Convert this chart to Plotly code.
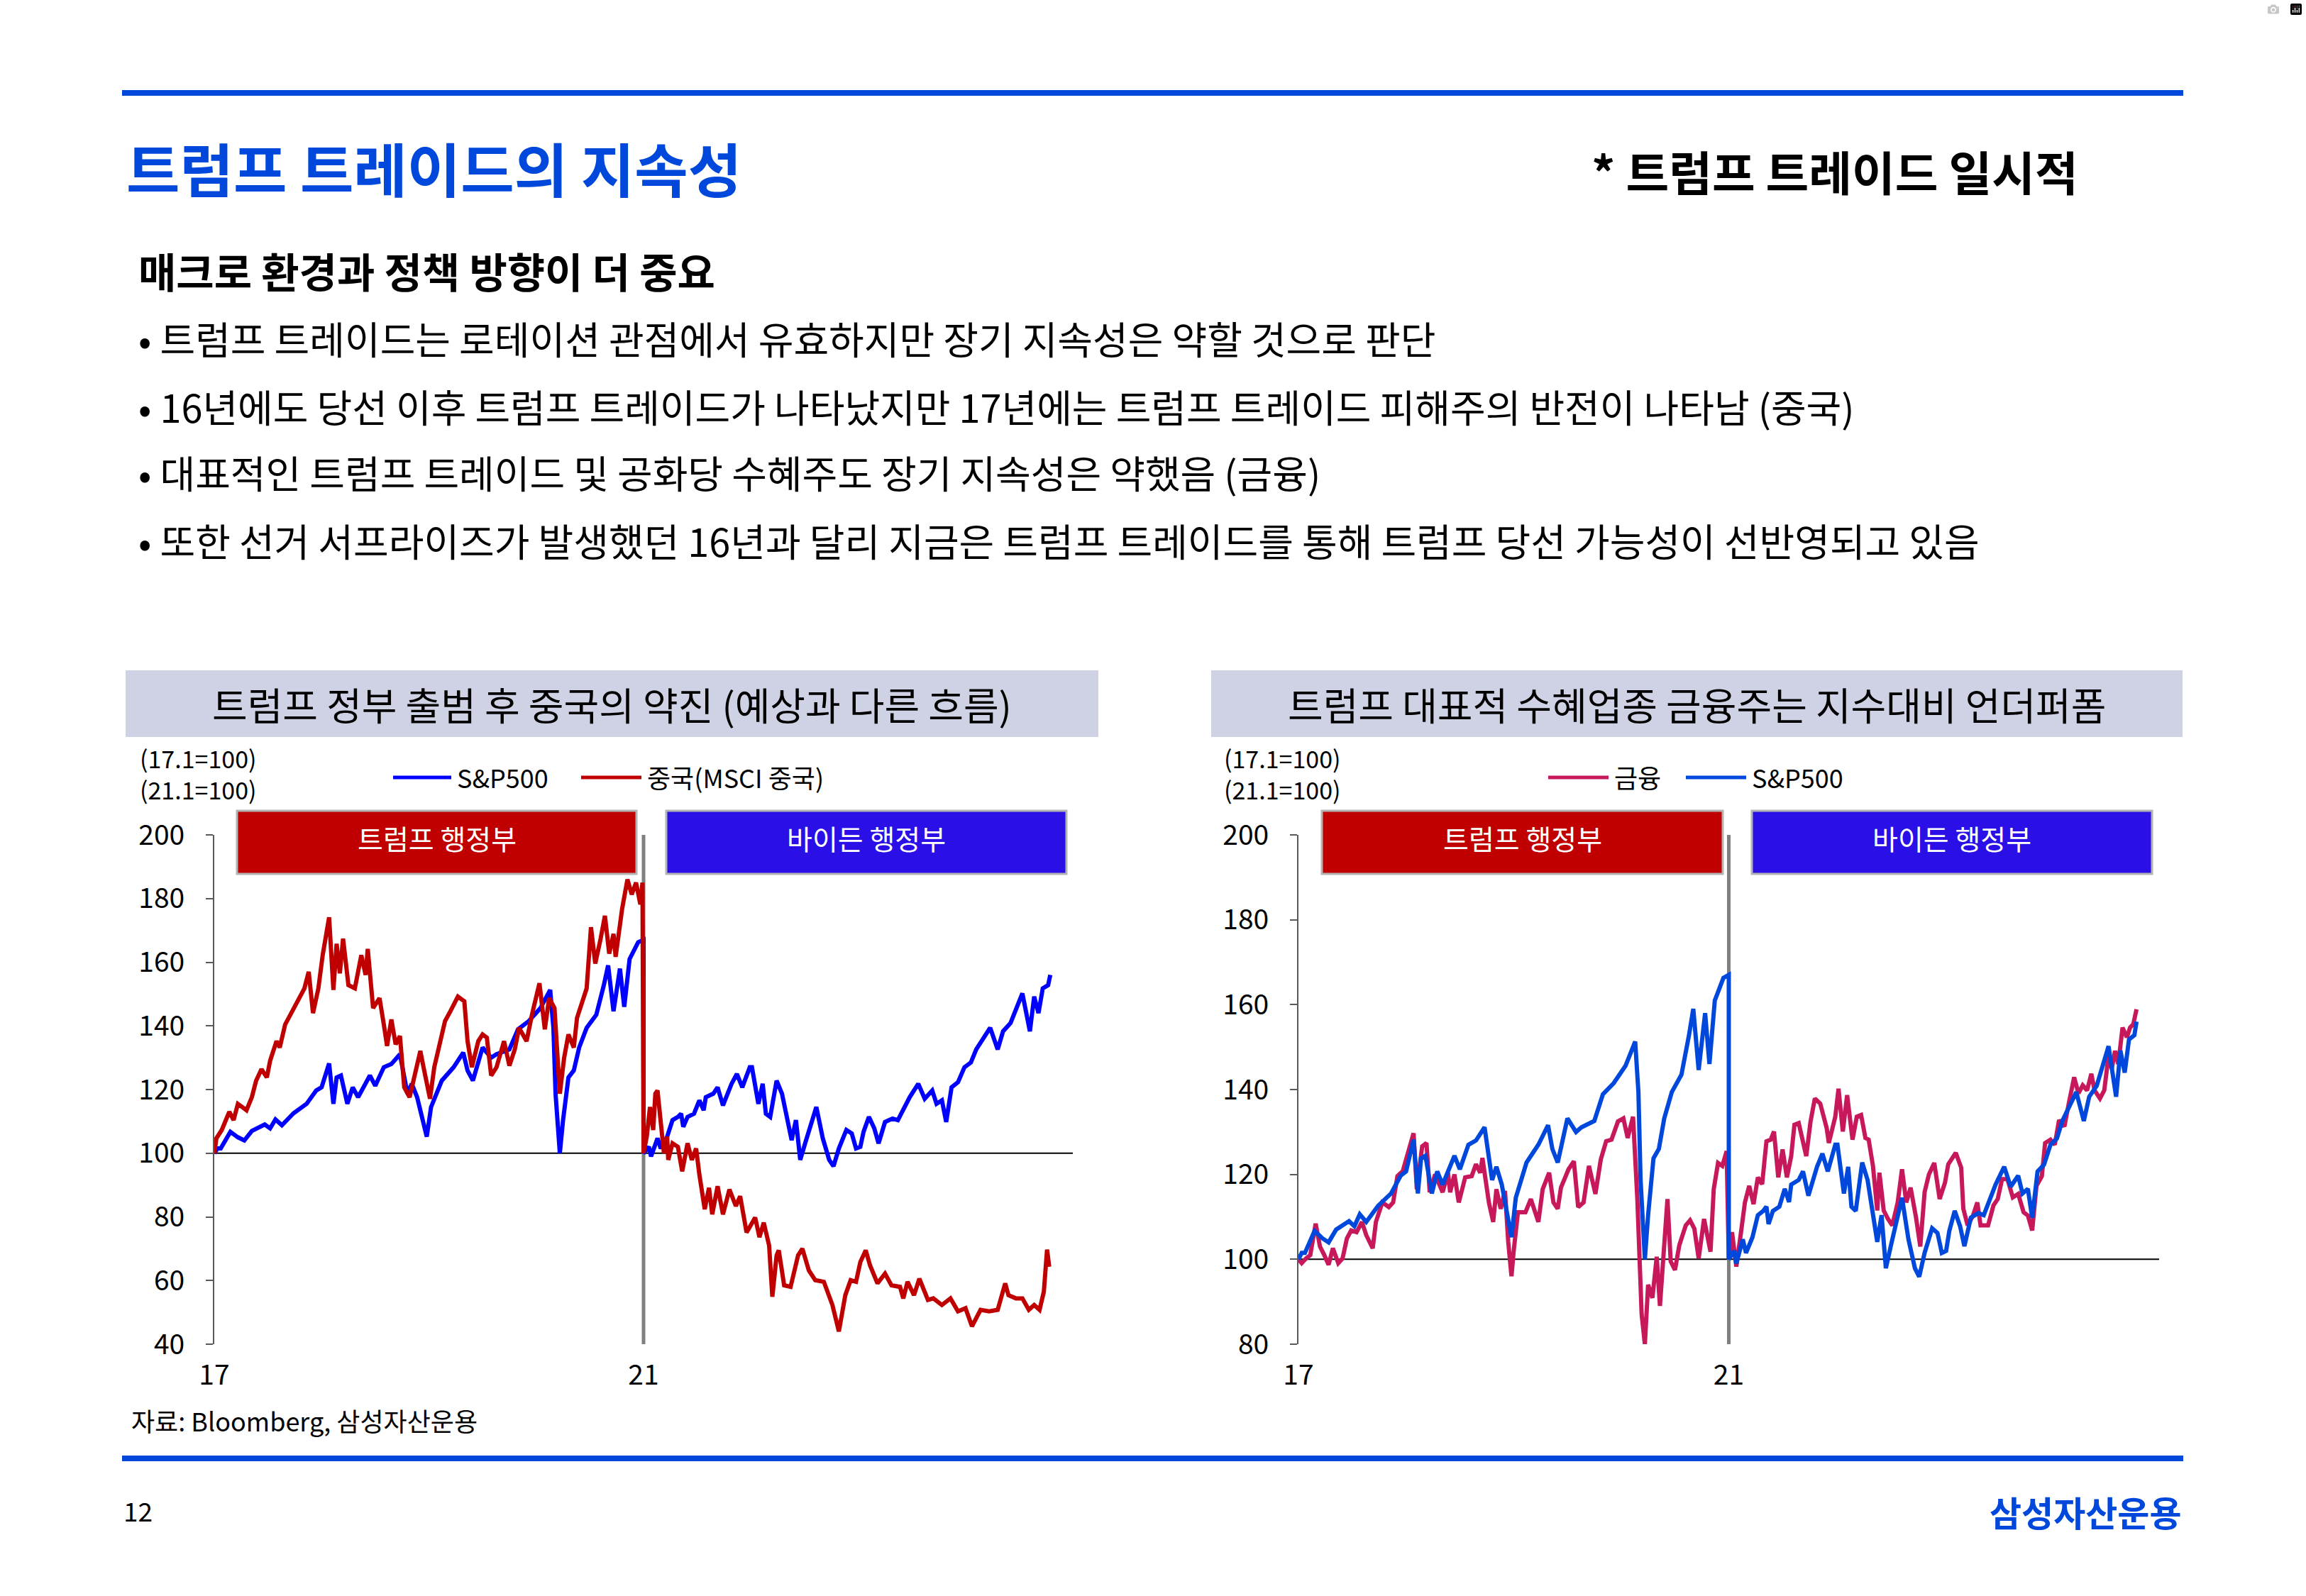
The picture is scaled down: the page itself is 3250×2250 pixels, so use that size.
import plotly.graph_objects as go

W, H = 3250, 2250
FONT = "Noto Sans CJK KR"
BLUE_BRAND = "#0047DB"

# x values are years on the chart axis: 17 = Jan 2017, 21 = Jan 2021 (rebased to 100)
sp500_trump = [
    (17.00, 100), (17.03, 101.5), (17.06, 101.5), (17.15, 106.7), (17.22, 105), (17.28, 104),
    (17.35, 107), (17.47, 109), (17.52, 107.8), (17.57, 110.6), (17.63, 108.8), (17.74, 112.6),
    (17.86, 115.5), (17.95, 119.7), (18.00, 120.7), (18.07, 128.2), (18.11, 115.5), (18.14, 123.8),
    (18.18, 124.4), (18.24, 115.5), (18.29, 120.7), (18.34, 117.6), (18.45, 124.4), (18.50, 121.2),
    (18.58, 127), (18.65, 128), (18.73, 131.1), (18.80, 118.7), (18.84, 121.8), (18.89, 117.6),
    (18.98, 105.2), (19.02, 114.5), (19.12, 122.8), (19.23, 127), (19.32, 131.6), (19.36, 126),
    (19.41, 122.8), (19.50, 133.2), (19.58, 130), (19.63, 131.1), (19.75, 132.6), (19.83, 138.9),
    (19.93, 141.5), (20.04, 145.6), (20.13, 151.3), (20.16, 139.4), (20.18, 118.7), (20.22, 100),
    (20.25, 110.4), (20.30, 123.8), (20.35, 126), (20.40, 133.2), (20.47, 139.4), (20.56, 143.5),
    (20.63, 152.8), (20.67, 159), (20.72, 144.6), (20.78, 158), (20.82, 146), (20.87, 161),
    (20.95, 166.3), (21.00, 167),
]
sp500_biden = [
    (21.00, 100), (21.05, 102), (21.07, 99), (21.13, 104.7), (21.16, 101.5), (21.22, 105.2),
    (21.27, 110.4), (21.32, 111.4), (21.35, 112.4), (21.37, 108.3), (21.41, 111.4), (21.47, 112.4),
    (21.52, 116.6), (21.56, 113.5), (21.58, 117.6), (21.65, 118.7), (21.69, 120.7), (21.74, 115),
    (21.82, 121.8), (21.87, 124.9), (21.92, 120.7), (21.99, 127), (22.01, 127), (22.07, 115.5),
    (22.11, 121.8), (22.14, 112.4), (22.18, 111.4), (22.24, 122.8), (22.29, 118.7), (22.34, 110.4),
    (22.38, 104.1), (22.42, 110.4), (22.46, 97.9), (22.51, 103.6), (22.56, 109.3), (22.61, 114.5),
    (22.67, 104.7), (22.73, 97.9), (22.77, 95.9), (22.82, 101.5), (22.89, 107.3), (22.94, 106.2),
    (22.98, 101.5), (23.02, 102), (23.05, 106.7), (23.10, 111.4), (23.15, 107.8), (23.19, 103.1),
    (23.25, 109.8), (23.32, 110.9), (23.37, 110.4), (23.42, 114), (23.48, 117.6), (23.56, 121.8),
    (23.62, 117.1), (23.69, 119.7), (23.73, 115.5), (23.78, 116.6), (23.82, 109.8), (23.87, 120.7),
    (23.93, 122.3), (23.99, 127), (24.05, 128.5), (24.10, 132.6), (24.17, 136.3), (24.23, 139.4),
    (24.30, 132.6), (24.35, 138.3), (24.42, 140.9), (24.47, 145), (24.53, 150.2), (24.60, 138.3),
    (24.64, 149.2), (24.68, 144), (24.72, 151.8), (24.77, 152.8), (24.79, 156),
]
china_trump = [
    (17.00, 100), (17.02, 104.7), (17.07, 107.3), (17.14, 113), (17.18, 110.4), (17.22, 115.5),
    (17.30, 113.5), (17.35, 117.6), (17.39, 122.8), (17.44, 126.4), (17.49, 123.8), (17.52, 129),
    (17.58, 135.2), (17.61, 133.2), (17.66, 140.4), (17.73, 145), (17.79, 148.7), (17.84, 151.8),
    (17.88, 157), (17.92, 144), (17.97, 151.8), (18.01, 162.2), (18.07, 174.1), (18.11, 151.3),
    (18.14, 165.8), (18.17, 156.5), (18.20, 167.4), (18.25, 152.8), (18.31, 151.8), (18.37, 162.2),
    (18.41, 156), (18.43, 164.2), (18.48, 145.6), (18.54, 148.7), (18.58, 140.4), (18.61, 133.7),
    (18.65, 142), (18.69, 134.2), (18.73, 136.8), (18.77, 120.7), (18.82, 117.6), (18.88, 127),
    (18.92, 132.1), (18.95, 127), (19.01, 117.1), (19.05, 127), (19.11, 136.3), (19.15, 141.5),
    (19.20, 144.6), (19.27, 149.2), (19.33, 147.7), (19.36, 135.2), (19.40, 127), (19.46, 135.2),
    (19.50, 137.3), (19.54, 136.3), (19.58, 124.4), (19.63, 127), (19.70, 135.2), (19.75, 127.5),
    (19.80, 132.6), (19.84, 139.4), (19.91, 135.2), (19.96, 143.5), (20.03, 153.4), (20.08, 138.9),
    (20.12, 148.7), (20.17, 145.6), (20.22, 118.7), (20.26, 130), (20.30, 137.3), (20.35, 133.2),
    (20.38, 142.5), (20.43, 147.7), (20.47, 151.8), (20.51, 171), (20.55, 159.6), (20.60, 167.4),
    (20.64, 174.6), (20.68, 162.7), (20.72, 168.9), (20.74, 161.7), (20.80, 176.7), (20.85, 186),
    (20.89, 181.3), (20.93, 185), (20.97, 178.2), (20.99, 185),
]
china_biden = [
    (21.00, 100), (21.03, 105.2), (21.06, 114.5), (21.09, 107.3), (21.11, 118.7), (21.13, 119.7),
    (21.16, 108.3), (21.19, 100), (21.22, 105.2), (21.23, 97.9), (21.27, 103.1), (21.32, 102),
    (21.36, 94.3), (21.41, 103.1), (21.45, 97.9), (21.49, 101.5), (21.52, 93.3), (21.57, 82.4),
    (21.61, 89.1), (21.64, 80.8), (21.69, 89.6), (21.74, 80.8), (21.80, 88.6), (21.86, 83.4),
    (21.90, 86.5), (21.96, 75.1), (22.04, 79.8), (22.08, 73.6), (22.12, 78.2), (22.17, 71),
    (22.20, 54.9), (22.24, 67.9), (22.26, 69.5), (22.31, 58.5), (22.37, 58), (22.41, 63.7),
    (22.44, 67.9), (22.48, 70), (22.54, 63.2), (22.60, 60.1), (22.68, 59.6), (22.76, 52.3),
    (22.82, 44), (22.88, 55.4), (22.93, 60.1), (22.98, 59.6), (23.02, 65.8), (23.07, 69.5),
    (23.11, 64.8), (23.18, 59.1), (23.25, 62.2), (23.31, 58.5), (23.39, 58), (23.42, 54.4),
    (23.46, 59.6), (23.52, 55.4), (23.57, 60.6), (23.65, 53.9), (23.70, 54.4), (23.78, 52.3),
    (23.86, 54.4), (23.93, 50.3), (24.00, 51.3), (24.06, 45.6), (24.14, 50.8), (24.22, 50.3),
    (24.30, 50.8), (24.37, 59.1), (24.40, 55.4), (24.47, 54.4), (24.53, 54.4), (24.59, 50.8),
    (24.64, 52.3), (24.69, 50.8), (24.73, 56.5), (24.76, 69.7), (24.78, 64.3),
]
fin_trump = [
    (17.00, 100), (17.03, 99.1), (17.07, 100.2), (17.11, 101), (17.16, 108.4), (17.20, 103),
    (17.24, 101), (17.28, 98.7), (17.32, 102.6), (17.37, 99.1), (17.41, 100.2), (17.45, 104.9),
    (17.49, 106.8), (17.54, 106.4), (17.59, 108.8), (17.63, 105.7), (17.69, 102.6), (17.72, 108.8),
    (17.78, 113.4), (17.84, 112.3), (17.88, 113.4), (17.92, 119.6), (17.97, 120.8), (18.02, 125.5),
    (18.07, 129.7), (18.10, 116.5), (18.15, 126.6), (18.19, 127.4), (18.22, 115.8), (18.27, 120),
    (18.34, 115.8), (18.39, 120.4), (18.41, 115.8), (18.45, 120), (18.49, 113.4), (18.55, 119.3),
    (18.61, 119.6), (18.65, 122.4), (18.69, 120.4), (18.71, 123.9), (18.77, 113.4), (18.81, 108.8),
    (18.84, 116.5), (18.88, 111.9), (18.92, 116.1), (18.95, 104.1), (18.98, 96), (19.00, 101.8),
    (19.04, 111.1), (19.11, 111.1), (19.16, 114.2), (19.20, 111.1), (19.23, 108.8), (19.27, 116.5),
    (19.33, 120.4), (19.37, 113.4), (19.41, 111.9), (19.44, 116.9), (19.51, 121.2), (19.56, 123.1),
    (19.60, 112.3), (19.65, 113.4), (19.70, 122), (19.76, 115.4), (19.81, 123.5), (19.86, 127.8),
    (19.91, 128.2), (19.97, 132.5), (20.02, 133.2), (20.06, 128.6), (20.11, 133.6), (20.15, 114.2),
    (20.19, 87), (20.22, 80), (20.25, 94), (20.29, 90.9), (20.33, 100.6), (20.36, 89),
    (20.40, 102.6), (20.43, 114.2), (20.46, 99.5), (20.50, 97.5), (20.54, 103.3), (20.60, 108),
    (20.64, 109.2), (20.68, 107.2), (20.72, 100.2), (20.77, 109.5), (20.83, 101.8), (20.86, 116.5),
    (20.90, 122.7), (20.94, 122), (20.98, 125.5),
]
fin_biden = [
    (21.00, 100), (21.03, 106.4), (21.07, 98.3), (21.11, 105.7), (21.15, 113.4), (21.19, 117.3),
    (21.23, 113), (21.27, 119.3), (21.31, 117.7), (21.35, 127.8), (21.39, 128.2), (21.42, 130.1),
    (21.46, 119.3), (21.50, 125.9), (21.54, 119.3), (21.58, 124.3), (21.61, 131.7), (21.65, 132.1),
    (21.69, 127.4), (21.72, 124.3), (21.76, 132.5), (21.80, 137.9), (21.85, 136.7), (21.91, 130.9),
    (21.93, 127.4), (21.99, 133.6), (22.02, 140.2), (22.06, 130.1), (22.10, 138.7), (22.15, 128.2),
    (22.19, 133.6), (22.23, 134), (22.27, 128.6), (22.30, 128.2), (22.34, 122), (22.38, 111.5),
    (22.40, 120.4), (22.44, 111.5), (22.48, 109.5), (22.52, 108), (22.57, 113.4), (22.61, 121.2),
    (22.65, 113.4), (22.69, 116.9), (22.74, 109.9), (22.78, 103), (22.82, 115.8), (22.86, 120),
    (22.91, 122.7), (22.96, 114.2), (23.01, 118.1), (23.04, 122.4), (23.11, 125.1), (23.16, 121.6),
    (23.18, 111.9), (23.22, 108), (23.27, 110.3), (23.31, 113.4), (23.34, 108), (23.41, 108),
    (23.46, 112.7), (23.50, 114.2), (23.54, 118.9), (23.59, 118.9), (23.64, 114.6), (23.69, 115.4),
    (23.74, 111.1), (23.78, 110.3), (23.82, 106.8), (23.86, 117.3), (23.91, 119.6), (23.94, 127.4),
    (23.99, 128.2), (24.03, 127), (24.07, 132.8), (24.12, 131.3), (24.16, 136.7), (24.21, 142.9),
    (24.25, 139.1), (24.29, 141), (24.33, 139.8), (24.37, 143.7), (24.40, 139.8), (24.45, 137.9),
    (24.49, 139.8), (24.53, 148), (24.56, 144.9), (24.59, 149.1), (24.62, 146), (24.66, 154.6),
    (24.70, 152.3), (24.73, 154.6), (24.76, 155.4), (24.79, 158.9),
]

x_ticks = [17, 21]
x_labels = ["17", "21"]

title = "트럼프 트레이드의 지속성"
note = "* 트럼프 트레이드 일시적"
subtitle = "매크로 환경과 정책 방향이 더 중요"
bullets = [
    "• 트럼프 트레이드는 로테이션 관점에서 유효하지만 장기 지속성은 약할 것으로 판단",
    "• 16년에도 당선 이후 트럼프 트레이드가 나타났지만 17년에는 트럼프 트레이드 피해주의 반전이 나타남 (중국)",
    "• 대표적인 트럼프 트레이드 및 공화당 수혜주도 장기 지속성은 약했음 (금융)",
    "• 또한 선거 서프라이즈가 발생했던 16년과 달리 지금은 트럼프 트레이드를 통해 트럼프 당선 가능성이 선반영되고 있음",
]
panel_titles = ["트럼프 정부 출범 후 중국의 약진 (예상과 다른 흐름)",
                "트럼프 대표적 수혜업종 금융주는 지수대비 언더퍼폼"]


def xs(pairs):
    return [p[0] for p in pairs]


def ys(pairs):
    return [p[1] for p in pairs]


def px(x):
    return x / W


def py(y):
    return 1 - y / H


sp500 = sp500_trump + sp500_biden
china = china_trump + china_biden
fin = fin_trump + fin_biden

fig = go.Figure()
fig.add_trace(go.Scatter(x=xs(sp500), y=ys(sp500), xaxis="x", yaxis="y", mode="lines",
                         name="S&P500", line=dict(color="#0000FF", width=6)))
fig.add_trace(go.Scatter(x=xs(china), y=ys(china), xaxis="x", yaxis="y", mode="lines",
                         name="중국(MSCI 중국)", line=dict(color="#C00000", width=6)))
fig.add_trace(go.Scatter(x=xs(fin), y=ys(fin), xaxis="x2", yaxis="y2", mode="lines",
                         name="금융", line=dict(color="#C8185C", width=6)))
fig.add_trace(go.Scatter(x=xs(sp500), y=ys(sp500), xaxis="x2", yaxis="y2", mode="lines",
                         name="S&P500", line=dict(color="#0048DC", width=6)))

tick_font = dict(family=FONT, size=39, color="#000000")
xcommon = dict(range=[17, 25], tickvals=x_ticks, ticktext=x_labels, showgrid=False,
               zeroline=False, showline=False, ticks="", tickfont=tick_font, fixedrange=True,
               automargin=False, ticklabelstandoff=17)
ycommon = dict(dtick=20, showgrid=False, zeroline=False, showline=True, linecolor="#595959",
               linewidth=2, ticks="outside", ticklen=10, tickwidth=2, tickcolor="#595959",
               tickfont=tick_font, ticklabelstandoff=22, fixedrange=True, automargin=False)
ydom = [py(1895), py(1177)]

fig.update_layout(
    width=W, height=H, margin=dict(l=0, r=0, t=0, b=0, pad=0, autoexpand=False),
    paper_bgcolor="white", plot_bgcolor="rgba(0,0,0,0)", showlegend=False,
    font=dict(family=FONT, color="#000000"),
    xaxis=dict(domain=[px(302), px(1512)], anchor="y", **xcommon),
    yaxis=dict(domain=ydom, anchor="x", range=[40, 200], **ycommon),
    xaxis2=dict(domain=[px(1830), px(3043)], anchor="y2", **xcommon),
    yaxis2=dict(domain=ydom, anchor="x2", range=[80, 200], **ycommon),
)

shapes = []
# page rules
for y0, y1 in [(127, 135), (2052, 2060)]:
    shapes.append(dict(type="rect", xref="paper", yref="paper", x0=px(172), x1=px(3077),
                       y0=py(y1), y1=py(y0), fillcolor=BLUE_BRAND, line=dict(width=0)))
# panel header bars
for x0, x1 in [(177, 1548), (1707, 3076)]:
    shapes.append(dict(type="rect", xref="paper", yref="paper", x0=px(x0), x1=px(x1),
                       y0=py(1039), y1=py(945), fillcolor="#CFD2E4", line=dict(width=0)))
# 100 reference lines and the 2021 divider
for xr, yr, ybot in [("x", "y", 40), ("x2", "y2", 80)]:
    shapes.append(dict(type="line", xref=xr, yref=yr, x0=17, x1=25, y0=100, y1=100,
                       line=dict(color="#000000", width=2), layer="below"))
    shapes.append(dict(type="line", xref=xr, yref=yr, x0=21, x1=21, y0=ybot, y1=200,
                       line=dict(color="#808080", width=5), layer="below"))
# administration boxes
boxes = [(334, 897, "#C00000", "트럼프 행정부"), (939, 1503, "#2A10E6", "바이든 행정부"),
         (1863, 2428, "#C00000", "트럼프 행정부"), (2469, 3033, "#2A10E6", "바이든 행정부")]
for x0, x1, col, _ in boxes:
    shapes.append(dict(type="rect", xref="paper", yref="paper", x0=px(x0), x1=px(x1),
                       y0=py(1232), y1=py(1143), fillcolor=col, line=dict(color="#B4B4B4", width=3)))
# legend keys
legend_keys = [(554, 636, "#0000FF", "S&P500"), (819, 904, "#C00000", "중국(MSCI 중국)"),
               (2182, 2267, "#C8185C", "금융"), (2376, 2461, "#0048DC", "S&P500")]
for x0, x1, col, _ in legend_keys:
    shapes.append(dict(type="line", xref="paper", yref="paper", x0=px(x0), x1=px(x1),
                       y0=py(1096), y1=py(1096), line=dict(color=col, width=5)))
fig.update_layout(shapes=shapes)


def add_text(x, y, text, size, color="#000000", bold=False, xanchor="left"):
    fig.add_annotation(x=px(x), y=py(y), xref="paper", yref="paper", text=text,
                       showarrow=False, xanchor=xanchor, yanchor="middle",
                       font=dict(family=FONT, size=size, color=color,
                                 weight="bold" if bold else "normal"))


add_text(176, 235, title, 82, BLUE_BRAND, bold=True)
add_text(2241, 240, note, 66, bold=True)
add_text(193, 381, subtitle, 58, bold=True)
for i, b in enumerate(bullets):
    add_text(193, [477, 572, 665, 761][i], b, 54)
add_text(862, 992, panel_titles[0], 54, xanchor="center")
add_text(2391, 992, panel_titles[1], 54, xanchor="center")
for x in [195, 1723]:
    add_text(x, 1068, "(17.1=100)", 34)
    add_text(x, 1113, "(21.1=100)", 34)
for x0, x1, col, label in legend_keys:
    add_text(x1 + 6, 1095, label, 36)
for x0, x1, col, label in boxes:
    add_text((x0 + x1) / 2, 1181, label, 39, "#FFFFFF", xanchor="center")
add_text(183, 2002, "자료: Bloomberg, 삼성자산운용", 36)
add_text(172, 2129, "12", 37)
add_text(3076, 2130, "삼성자산운용", 49, BLUE_BRAND, bold=True, xanchor="right")

fig.write_html("out.html", post_script="document.body.style.margin='0';")
